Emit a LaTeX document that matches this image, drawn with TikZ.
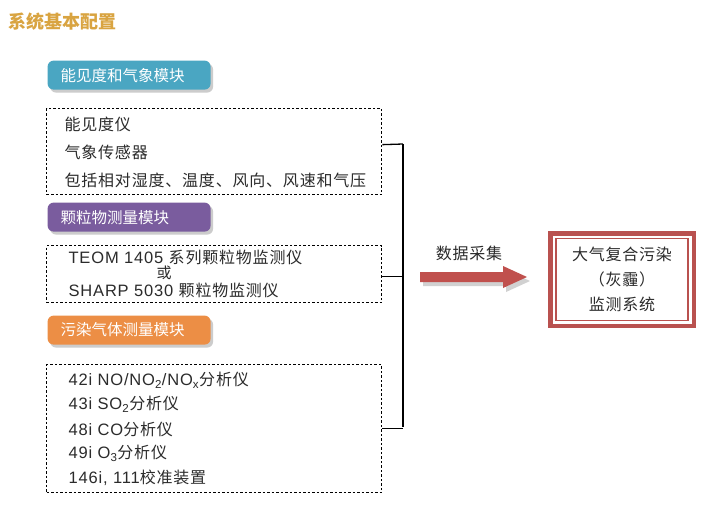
\documentclass[tikz,border=0pt]{standalone}
\usepackage{fontspec}
\usepackage{xcolor}
\usepackage{tikz}
\usetikzlibrary{shadows}

\newfontfamily\cjk[LetterSpace=5]{Noto Sans CJK SC}
\newfontfamily\cjkhead{Noto Sans CJK SC}
\newfontfamily\lat[LetterSpace=5]{Liberation Sans}
\newcommand\engtext[1]{{\lat\fontsize{16.5}{18}\selectfont #1}}

\definecolor{titlegold}{HTML}{D9A441}
\definecolor{headblue}{HTML}{4AA6C2}
\definecolor{headpurple}{HTML}{7A5C9E}
\definecolor{headorange}{HTML}{EC8E45}
\definecolor{framered}{HTML}{B9514F}
\definecolor{arrowred}{HTML}{C0504D}
\definecolor{bodytext}{HTML}{2B2B2B}

\begin{document}
\begin{tikzpicture}[x=1pt, y=-1pt, line width=1.2pt,
    header/.style={rounded corners=6pt, anchor=north west, minimum height=29pt,
      text width=137pt, inner xsep=13pt, inner ysep=0pt, align=left, text=white,
      font=\cjkhead\fontsize{15.5}{18}\selectfont,
      drop shadow={shadow xshift=2.5pt, shadow yshift=-3pt, fill=black!20, opacity=1}},
    dashbox/.style={draw=black, line width=1.3pt, dash pattern=on 2.5pt off 2pt,
      anchor=north west, minimum width=335pt, inner sep=0pt},
    item/.style={anchor=west, inner sep=0pt, text=bodytext,
      font=\cjk\fontsize{16}{18}\selectfont},
  ]

    \def\fatarrow{
      \fill[black!18] (3,-1) -- (86,-1) -- (86,-7) -- (110,4) -- (86,15) -- (86,9) -- (3,9) -- cycle;
      \fill[arrowred] (0,-5) -- (83,-5) -- (83,-11) -- (107,0) -- (83,11) -- (83,5) -- (0,5) -- cycle;
    }

    \fill[white] (0,0) rectangle (703,509);
    \useasboundingbox (0,0) rectangle (703,509);

    \node (title) [anchor=west, inner sep=0pt, text=titlegold,
      font=\cjkhead\bfseries\fontsize{18}{20}\selectfont] at (8,22) {系统基本配置};

    % modules
    \node (visihead) [header, fill=headblue]   at (47,60)  {能见度和气象模块};
    \node (parthead) [header, fill=headpurple] at (47,202) {颗粒物测量模块};
    \node (gashead)  [header, fill=headorange] at (47,315) {污染气体测量模块};

    \node (instbox1) [dashbox, minimum height=86pt]  at (46,108) {};
    \node (instbox2) [dashbox, minimum height=57pt]  at (46,245) {};
    \node (instbox3) [dashbox, minimum height=128pt] at (46,364) {};

    \node (vis)  [item] at (64,124) {能见度仪};
    \node (met)  [item] at (64,152) {气象传感器};
    \node (metx) [item] at (64,180) {包括相对湿度、温度、风向、风速和气压};

    \node (teom)   [item, text height=12pt, text depth=2pt] at (68,258) {\engtext{TEOM 1405 }系列颗粒物监测仪};
    \node (orword) [item, anchor=center, text height=11pt, text depth=1pt,
      font=\cjk\fontsize{15}{16}\selectfont] at (164,273.5) {或};
    \node (sharp)  [item, text height=12pt, text depth=2pt] at (68,291) {\engtext{SHARP 5030 }颗粒物监测仪};

    \foreach \lbl [count=\i] in {
        {\engtext{42i NO/NO\textsubscript{2}/NO\textsubscript{x}}分析仪},
        {\engtext{43i SO\textsubscript{2}}分析仪},
        {\engtext{48i CO}分析仪},
        {\engtext{49i O\textsubscript{3}}分析仪},
        {\engtext{146i, 111}校准装置}}
      \node (gas\i) [item] at (68,355.5+24.5*\i) {\lbl};

    % bus
    \coordinate (bustop) at (403,144);
    \coordinate (busbot) at (403,427);
    \draw[line width=1.3pt] (bustop) -- (busbot);
    \draw[line width=1.3pt] ([yshift=7pt]instbox1.east) -- (bustop);
    \draw[line width=1.3pt] ([yshift=-2.5pt]instbox2.east) -- ([yshift=-2.5pt]instbox2.east -| bustop);
    \draw[line width=1.3pt] (instbox3.east) -- (instbox3.east -| bustop);

    \begin{scope}[ shift = ({ 420 , 277 }) ] \fatarrow \end{scope}
    \node (collect) [item, anchor=center] at (469,253) {数据采集};

    \node (monitor) [draw=framered, line width=4.5pt, minimum width=143.5pt, minimum height=92.5pt,
      align=center, text=bodytext, font=\cjk\fontsize{16}{25}\selectfont] at (622,279.5)
      {大气复合污染\\（灰霾）\\监测系统};
    \draw[framered, line width=1.3pt] ([shift={(8pt,-7.5pt)}]monitor.north west)
      rectangle ([shift={(-8pt,7.5pt)}]monitor.south east);

\end{tikzpicture}
\end{document}
